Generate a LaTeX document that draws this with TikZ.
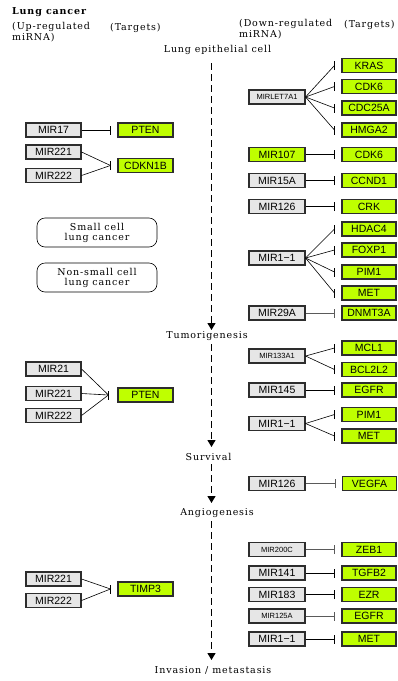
\documentclass[tikz,border=0pt]{standalone}
\usepackage{fontspec}
\newfontfamily\boxfont{Liberation Sans}
\newfontfamily\lblfont{DejaVu Serif}[LetterSpace=9]
\usetikzlibrary{arrows.meta}
\definecolor{mirgray}{RGB}{230,230,230}
\definecolor{tgtgreen}{RGB}{191,255,0}
\definecolor{edgecol}{RGB}{45,45,45}
\definecolor{linegray}{RGB}{90,90,90}
\newcommand{\inhbar}[2][black]{\draw[barst, draw=#1] ([yshift=-4.5pt]#2) -- ([yshift=4.5pt]#2);}
\begin{document}
\begin{tikzpicture}[x=1pt,y=-1pt,
  mirbox/.style={draw=edgecol, line width=1.1pt, fill=mirgray, minimum width=55pt, minimum height=14pt, inner sep=0pt, font=\boxfont\fontsize{10.5}{12}\selectfont},
  mirsmall/.style={mirbox, font=\boxfont\fontsize{7.5}{9}\selectfont},
  tgtbox/.style={mirbox, fill=tgtgreen, minimum width=54pt},
  inh/.style={line width=0.8pt},
  fan/.style={line width=0.6pt},
  inhg/.style={inh, draw=linegray},
  barst/.style={line width=0.9pt},
  lbl/.style={font=\lblfont\fontsize{9.5}{8}\selectfont, inner sep=0pt, align=left},
  bold/.style={font=\lblfont\bfseries\fontsize{9.5}{9}\selectfont, inner sep=0pt},
  cancer/.style={draw=black, line width=0.6pt, rounded corners=8pt, minimum width=120pt, minimum height=29pt, inner sep=0pt, align=center, font=\lblfont\fontsize{9.5}{10}\selectfont},
  flow/.style={line width=1.1pt, dash pattern=on 7pt off 4pt, -{Triangle[width=8pt,length=7pt]}}
]
\useasboundingbox[fill=white] (0,0) rectangle (397,681);

% headers
\node[bold, anchor=west] (title) at (12,12) {Lung cancer};
\node[lbl, anchor=west] (hup) at (12,32) {(Up-regulated\\miRNA)};
\node[lbl, anchor=west] (htl) at (110,28) {(Targets)};
\node[lbl, anchor=west] (hdown) at (239,29) {(Down-regulated\\miRNA)};
\node[lbl, anchor=west] (htr) at (344,25) {(Targets)};

% central flow
\node[lbl] (epi) at (217.5,50) {Lung epithelial cell};
\node[lbl] (tum) at (207,336) {Tumorigenesis};
\node[lbl] (sur) at (208.5,457) {Survival};
\node[lbl] (ang) at (217,513) {Angiogenesis};
\node[lbl] (inv) at (213,670) {Invasion / metastasis};
\coordinate (f1s) at (211.5,63);  \coordinate (f1e) at (211.5,330);
\coordinate (f2s) at (211.5,344); \coordinate (f2e) at (211.5,447);
\coordinate (f3s) at (211.5,464); \coordinate (f3e) at (211.5,503);
\coordinate (f4s) at (211.5,521); \coordinate (f4e) at (211.5,660);
\draw[flow] (f1s) -- (f1e);
\draw[flow] (f2s) -- (f2e);
\draw[flow] (f3s) -- (f3e);
\draw[flow] (f4s) -- (f4e);

% cancer types
\node[cancer] (scl) at (97,232.5) {Small cell\\lung cancer};
\node[cancer] (nscl) at (97,277.5) {Non-small cell\\lung cancer};

% ---------- left side ----------
\node[mirbox] (L17) at (53.5,130) {MIR17};
\node[tgtbox, minimum width=55pt] (Lpten1) at (145.5,130) {PTEN};
\coordinate (Lpten1b) at ([xshift=-7pt]Lpten1.west);
\draw[inh] (L17.east) -- (Lpten1b); \inhbar{Lpten1b}

\node[mirbox] (L221a) at (53.5,152) {MIR221};
\node[mirbox] (L222a) at (53.5,175.5) {MIR222};
\node[tgtbox, minimum width=55pt] (Lcdkn) at (145.5,165.5) {CDKN1B};
\coordinate (Lcdknb) at ([xshift=-7pt]Lcdkn.west);
\draw[fan] (L221a.east) -- (Lcdknb);
\draw[fan] (L222a.east) -- (Lcdknb);
\inhbar{Lcdknb}

\node[mirbox] (L21) at (53.5,369) {MIR21};
\node[mirbox] (L221b) at (53.5,393.5) {MIR221};
\node[mirbox] (L222b) at (53.5,415.5) {MIR222};
\node[tgtbox, minimum width=55pt] (Lpten2) at (145.5,395) {PTEN};
\coordinate (Lpten2b) at ([xshift=-9pt]Lpten2.west);
\draw[fan] (L21.east) -- (Lpten2b);
\draw[fan] (L221b.east) -- (Lpten2b);
\draw[fan] (L222b.east) -- (Lpten2b);
\inhbar{Lpten2b}

\node[mirbox] (L221c) at (53.5,579) {MIR221};
\node[mirbox] (L222c) at (53.5,600.5) {MIR222};
\node[tgtbox, minimum width=55pt] (Ltimp) at (145.5,589) {TIMP3};
\coordinate (Ltimpb) at ([xshift=-7pt]Ltimp.west);
\draw[fan] (L221c.east) -- (Ltimpb);
\draw[fan] (L222c.east) -- (Ltimpb);
\inhbar{Ltimpb}

% ---------- right side ----------
\node[mirsmall, minimum width=56pt] (Rlet) at (277,97) {MIRLET7A1};
\node[tgtbox] (Rkras) at (369,65.5) {KRAS};
\node[tgtbox] (Rcdk6a) at (369,86.5) {CDK6};
\node[tgtbox] (Rcdc) at (369,108) {CDC25A};
\node[tgtbox] (Rhmga) at (369,130) {HMGA2};
\foreach \t in {Rkras,Rcdk6a,Rcdc,Rhmga}{
  \coordinate (\t b) at ([xshift=-7pt]\t.west);
  \draw[fan] (Rlet.east) -- (\t b);
  \inhbar{\t b}
}

\node[tgtbox, minimum width=56pt] (R107) at (277,154.5) {MIR107};
\node[tgtbox] (Rcdk6b) at (369,154.5) {CDK6};
\coordinate (Rcdk6bb) at ([xshift=-7pt]Rcdk6b.west);
\draw[inh] (R107.east) -- (Rcdk6bb); \inhbar{Rcdk6bb}

\node[mirbox, minimum width=56pt] (R15a) at (277,180.5) {MIR15A};
\node[tgtbox] (Rccnd) at (369,180.5) {CCND1};
\coordinate (Rccndb) at ([xshift=-7pt]Rccnd.west);
\draw[inh] (R15a.east) -- (Rccndb); \inhbar{Rccndb}

\node[mirbox, minimum width=56pt] (R126a) at (277,206.5) {MIR126};
\node[tgtbox] (Rcrk) at (369,206.5) {CRK};
\coordinate (Rcrkb) at ([xshift=-7pt]Rcrk.west);
\draw[inh] (R126a.east) -- (Rcrkb); \inhbar{Rcrkb}

\node[mirbox, minimum width=56pt] (R11a) at (277,258) {MIR1−1};
\node[tgtbox] (Rhdac) at (369,229) {HDAC4};
\node[tgtbox] (Rfoxp) at (369,250) {FOXP1};
\node[tgtbox] (Rpim1a) at (369,272) {PIM1};
\node[tgtbox] (Rmeta) at (369,293) {MET};
\foreach \t in {Rhdac,Rfoxp,Rpim1a,Rmeta}{
  \coordinate (\t b) at ([xshift=-7pt]\t.west);
  \draw[fan] (R11a.east) -- (\t b);
  \inhbar{\t b}
}

\node[mirbox, minimum width=56pt] (R29a) at (277,313) {MIR29A};
\node[tgtbox] (Rdnmt) at (369,313) {DNMT3A};
\coordinate (Rdnmtb) at ([xshift=-7pt]Rdnmt.west);
\draw[inhg] (R29a.east) -- (Rdnmtb); \inhbar[linegray]{Rdnmtb}

\node[mirsmall, minimum width=56pt] (R133) at (277,356) {MIR133A1};
\node[tgtbox] (Rmcl) at (369,348) {MCL1};
\node[tgtbox] (Rbcl) at (369,369.5) {BCL2L2};
\foreach \t in {Rmcl,Rbcl}{
  \coordinate (\t b) at ([xshift=-7pt]\t.west);
  \draw[fan] (R133.east) -- (\t b);
  \inhbar{\t b}
}

\node[mirbox, minimum width=56pt] (R145) at (277,390) {MIR145};
\node[tgtbox] (Regfra) at (369,390) {EGFR};
\coordinate (Regfrab) at ([xshift=-7pt]Regfra.west);
\draw[inh] (R145.east) -- (Regfrab); \inhbar{Regfrab}

\node[mirbox, minimum width=56pt] (R11b) at (277,423.5) {MIR1−1};
\node[tgtbox] (Rpim1b) at (369,414.5) {PIM1};
\node[tgtbox] (Rmetb) at (369,436) {MET};
\foreach \t in {Rpim1b,Rmetb}{
  \coordinate (\t b) at ([xshift=-7pt]\t.west);
  \draw[fan] (R11b.east) -- (\t b);
  \inhbar{\t b}
}

\node[mirbox, minimum width=56pt] (R126b) at (277,483.5) {MIR126};
\node[tgtbox] (Rvegfa) at (369.5,483.5) {VEGFA};
\coordinate (Rvegfab) at ([xshift=-7pt]Rvegfa.west);
\draw[inhg] (R126b.east) -- (Rvegfab); \inhbar[linegray]{Rvegfab}

\node[mirsmall, minimum width=56pt] (R200c) at (277,549.5) {MIR200C};
\node[tgtbox] (Rzeb) at (369,549.5) {ZEB1};
\coordinate (Rzebb) at ([xshift=-7pt]Rzeb.west);
\draw[inhg] (R200c.east) -- (Rzebb); \inhbar[linegray]{Rzebb}

\node[mirbox, minimum width=56pt] (R141) at (277,573) {MIR141};
\node[tgtbox] (Rtgfb) at (369,573) {TGFB2};
\coordinate (Rtgfbb) at ([xshift=-7pt]Rtgfb.west);
\draw[inh] (R141.east) -- (Rtgfbb); \inhbar{Rtgfbb}

\node[mirbox, minimum width=56pt] (R183) at (277,594.5) {MIR183};
\node[tgtbox] (Rezr) at (369,594.5) {EZR};
\coordinate (Rezrb) at ([xshift=-7pt]Rezr.west);
\draw[inh] (R183.east) -- (Rezrb); \inhbar{Rezrb}

\node[mirsmall, minimum width=56pt] (R125) at (277,616) {MIR125A};
\node[tgtbox] (Regfrb) at (369,616) {EGFR};
\coordinate (Regfrbb) at ([xshift=-7pt]Regfrb.west);
\draw[inhg] (R125.east) -- (Regfrbb); \inhbar[linegray]{Regfrbb}

\node[mirbox, minimum width=56pt] (R11c) at (277,639) {MIR1−1};
\node[tgtbox] (Rmetc) at (369,639) {MET};
\coordinate (Rmetcb) at ([xshift=-7pt]Rmetc.west);
\draw[inh] (R11c.east) -- (Rmetcb); \inhbar{Rmetcb}
\end{tikzpicture}
\end{document}
